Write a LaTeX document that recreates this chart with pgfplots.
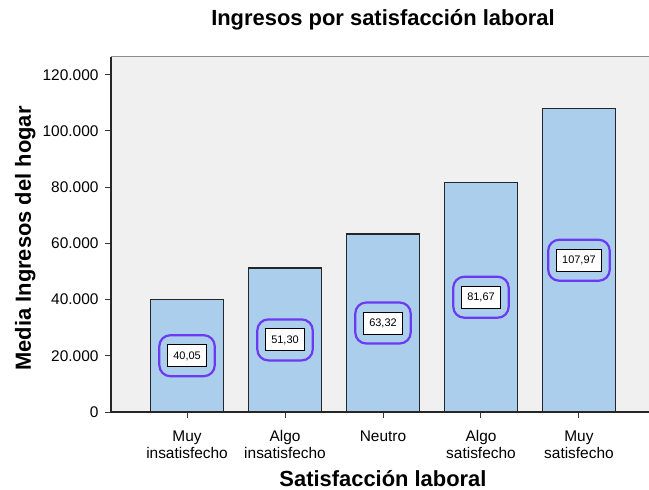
\documentclass[border=0pt]{standalone}
\usepackage{pgfplots}
\pgfplotsset{compat=1.18}
\usepackage{fontspec}
\setmainfont{Liberation Sans}
\definecolor{bg}{RGB}{240,240,240}
\definecolor{barblue}{RGB}{170,206,236}
\definecolor{hl}{RGB}{108,58,242}
\pgfplotstableread{
x y lab
0 20025 40,05
1 25650 51,30
2 31660 63,32
3 40835 81,67
4 53985 107,97
}\labtable
\begin{document}
\begin{tikzpicture}
\begin{axis}[
  scale only axis, width=544bp, height=355bp,
  xmin=-0.776, xmax=4.776, ymin=0, ymax=126300,
  axis background/.style={fill=bg},
  axis lines*=left,
  axis line style={line width=1.6bp, black!85},
  tick align=outside,
  major tick length=6bp,
  tick style={line width=1bp, black!80},
  ytick={0,20000,40000,60000,80000,100000,120000},
  scaled y ticks=false,
  /pgf/number format/.cd, fixed, 1000 sep={.}, assume math mode=true,
  /pgfplots/.cd,
  yticklabel style={font=\fontsize{15.5}{17}\selectfont, xshift=-3bp},
  xtick={0,1,2,3,4},
  xticklabels={{Muy\\insatisfecho},{Algo\\insatisfecho},{Neutro},{Algo\\satisfecho},{Muy\\satisfecho}},
  xticklabel style={align=center, font=\fontsize{15.5}{17}\selectfont, anchor=north, yshift=-9bp},
  title={Ingresos por satisfacción laboral},
  title style={at={(rel axis cs:0.5,1)}, anchor=base, yshift=26bp, font=\bfseries\fontsize{22}{24}\selectfont},
  xlabel={Satisfacción laboral},
  xlabel style={at={([yshift=-74.5bp]rel axis cs:0.5,0)}, anchor=base, font=\bfseries\fontsize{22}{24}\selectfont},
  ylabel={Media Ingresos del hogar},
  ylabel style={at={([xshift=-80bp,yshift=-4bp]rel axis cs:0,0.5)}, anchor=base, rotate=0, font=\bfseries\fontsize{22}{24}\selectfont},
  clip=false,
]
\draw[black!45, line width=1bp] (rel axis cs:0,1) -- (rel axis cs:1,1);
\addplot[ybar, bar width=73bp, fill=barblue, draw=black!85, line width=1.6bp]
  coordinates {(0,40050) (1,51300) (2,63320) (3,81670) (4,107970)};
\addplot[draw=none, mark=none, nodes near coords={\setlength{\fboxsep}{5.5bp}\setlength{\fboxrule}{1bp}\fcolorbox{black}{white}{\fontsize{11}{12}\selectfont\pgfplotspointmeta\rule[-1.5bp]{0pt}{10bp}}},
  point meta=explicit symbolic,
  every node near coord/.style={anchor=center, draw=hl, line width=2.2bp, rounded corners=11bp, inner xsep=7.5bp, inner ysep=9bp}]
  table[x=x, y=y, meta=lab]{\labtable};
\coordinate (O) at (rel axis cs:0,0);
\end{axis}
\pgfresetboundingbox
\path (O) ++(-111bp,-78bp) rectangle ++(649bp,490bp);
\end{tikzpicture}
\end{document}
